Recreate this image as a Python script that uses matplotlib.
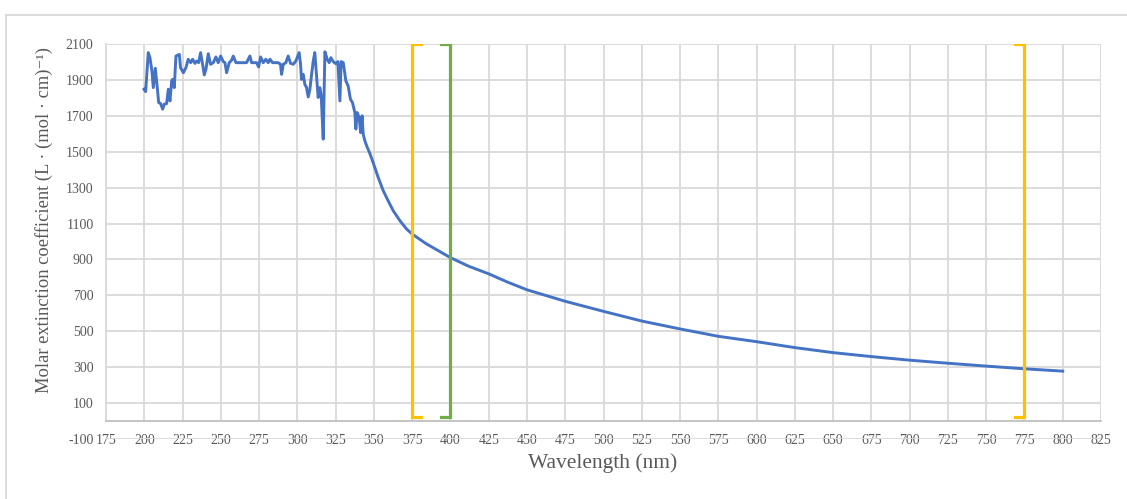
import numpy as np
import matplotlib.pyplot as plt
from matplotlib.lines import Line2D

plt.rcParams['font.family'] = ['Liberation Serif', 'DejaVu Serif']
plt.rcParams['axes.unicode_minus'] = False

# spectrum (nm, L/(mol*cm))
wl = [199.8, 200.9, 202.6, 203.7, 205.0, 205.9, 207.2, 208.5, 209.4, 210.7, 212.0, 213.1,
      214.6, 215.7, 216.8, 217.9, 218.5, 219.6, 220.7, 222.9, 223.7, 225.5, 227.2, 228.7,
      230.3, 231.6, 233.1, 234.2, 235.5, 236.8, 238.1, 239.2, 240.3, 241.8, 243.3, 245.1,
      246.8, 248.3, 249.9, 251.6, 252.7, 253.8, 255.5, 257.0, 258.1, 259.9, 262.5, 266.8,
      269.0, 270.1, 273.4, 274.7, 276.0, 277.7, 279.4, 281.0, 282.1, 283.8, 287.5, 289.0,
      289.7, 290.8, 292.5, 294.0, 295.6, 297.3, 299.0, 301.2, 302.1, 302.7, 303.8, 304.9,
      306.0, 307.1, 308.2, 309.3, 310.4, 311.4, 312.5, 313.6, 314.7, 315.6, 316.9, 318.0,
      319.5, 320.8, 321.9, 323.4, 325.2, 326.5, 327.8, 328.6, 330.0, 331.7, 333.2, 334.7,
      336.0, 337.6, 338.2, 339.1, 340.4, 341.3, 342.3, 343.0, 344.1, 345.4, 347.2, 349.5,
      352.8, 356.1, 359.3, 362.6, 367.0, 371.3, 375.2, 384.3, 393.0, 400.0, 412.0, 425.0,
      437.0, 450.0, 475.0, 500.0, 525.0, 550.0, 575.0, 600.0, 625.0, 650.0, 675.0, 700.0,
      725.0, 750.0, 775.0, 800.0]
eps = [1848, 1835, 2052, 2024, 1950, 1857, 1965, 1857, 1774, 1768, 1737, 1765,
       1768, 1848, 1783, 1894, 1903, 1857, 2033, 2042, 1968, 1940, 1968, 2015,
       1996, 2015, 1992, 2005, 1996, 2052, 1987, 1928, 1959, 2046, 1987, 1996,
       2028, 1996, 2033, 2002, 1996, 1940, 1996, 2009, 2033, 1996, 1996, 1996,
       2033, 1996, 1996, 1972, 2028, 1996, 2015, 1996, 2015, 1996, 1996, 1987,
       1931, 1987, 1996, 2033, 1992, 1987, 2005, 2052, 1987, 1903, 1931, 1876,
       1857, 1805, 1848, 1931, 2005, 2052, 1931, 1802, 1857, 1811, 1570, 2057,
       2015, 1996, 2024, 2002, 1990, 2002, 1783, 2002, 1996, 1894, 1866, 1792,
       1774, 1718, 1626, 1718, 1690, 1607, 1700, 1598, 1561, 1530, 1494, 1440,
       1357, 1283, 1227, 1172, 1116, 1070, 1040, 987, 944, 910, 862, 820,
       775, 731, 667, 611, 557, 513, 472, 442, 409, 381, 359, 339,
       322, 306, 291, 278]

# brackets: position, side (+1 opens right, -1 opens left), colour
br_x = [375, 400, 775]
br_dir = [1, -1, -1]
br_col = ['#FFC000', '#70AD47', '#FFC000']
br_lo, br_hi, br_tick = 25, 2100, 6

xticks = np.arange(175, 826, 25)
yticks = np.arange(-100, 2101, 200)

fig = plt.figure(figsize=(11.27, 4.99), dpi=100)
ax = fig.add_axes([106/1127, 1 - 439/499, (1101 - 106)/1127, (439 - 44)/499])

ax.set_xlim(175, 825)
ax.set_ylim(-100, 2100)
ax.set_xticks(xticks)
ax.set_yticks(yticks)
ax.yaxis.grid(True, color='#D9D9D9', lw=1.3, zorder=0)
ax.vlines(xticks, 0, 2100, color='#D9D9D9', lw=1.3, zorder=0)
ax.set_axisbelow(True)

for s in ['top', 'right']:
    ax.spines[s].set_visible(False)
ax.spines['bottom'].set_position(('data', 0))
ax.spines['bottom'].set_color('#BFBFBF')
ax.spines['bottom'].set_linewidth(1.3)
ax.spines['left'].set_color('#D9D9D9')
ax.spines['left'].set_linewidth(1.3)
ax.spines['left'].set_bounds(0, 2100)
ax.tick_params(length=0, labelsize=10, labelcolor='#595959')
ax.tick_params(axis='x', pad=9)
ax.tick_params(axis='y', pad=9)

ax.plot(wl, eps, color='#4472C4', lw=2.1, zorder=3)

for x, d, c in zip(br_x, br_dir, br_col):
    ax.plot([x + d*br_tick, x, x, x + d*br_tick], [br_hi, br_hi, br_lo, br_lo],
            color=c, lw=2.3, zorder=4, solid_joinstyle='miter')

fig.text(44/1127, 1 - 220/499, 'Molar extinction coefficient (L · (mol · cm)⁻¹)',
         rotation=90, ha='center', va='center', fontsize=13.3, color='#595959')
fig.text(603/1127, 1 - 463/499, 'Wavelength (nm)', ha='center', va='center',
         fontsize=15.5, color='#595959')

# chart area border
fig.add_artist(Line2D([6/1127, 1], [1 - 15/499, 1 - 15/499], color='#D9D9D9', lw=1.3))
fig.add_artist(Line2D([6/1127, 6/1127], [0, 1 - 15/499], color='#D9D9D9', lw=1.3))

fig.savefig('out.png', dpi=100)
